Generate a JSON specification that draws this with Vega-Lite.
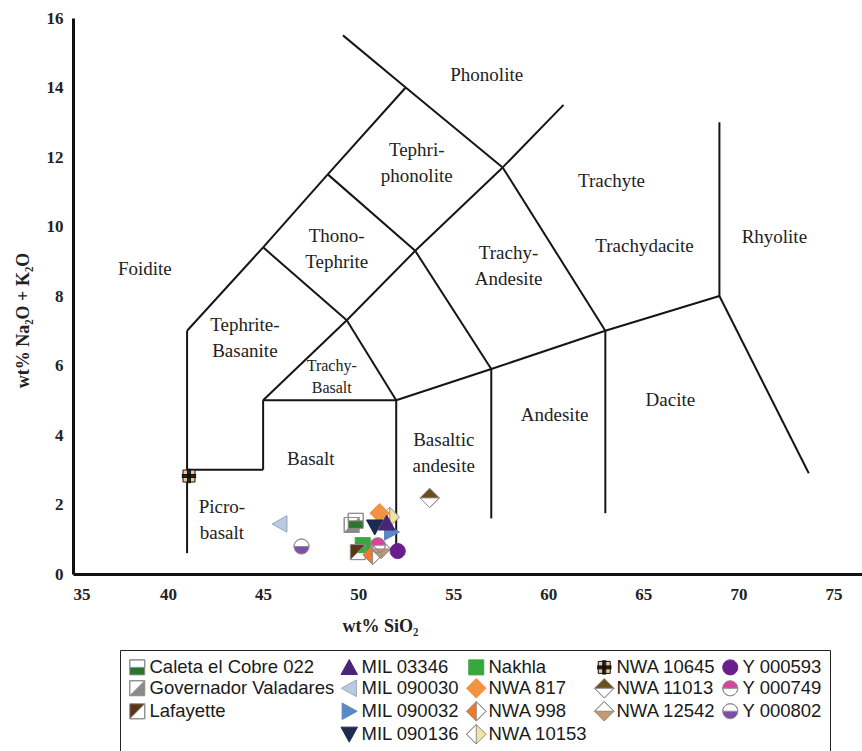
{
  "$schema": "https://vega.github.io/schema/vega-lite/v6.json",
  "autosize": {"type": "none"},
  "padding": {"left": 73, "top": 18, "right": 0, "bottom": 177},
  "width": 789,
  "height": 556,
  "background": "white",
  "config": {
    "view": {"stroke": null},
    "axis": {
      "grid": false,
      "ticks": false,
      "domainColor": "#111",
      "domainWidth": 3,
      "labelFont": "Liberation Serif",
      "labelFontWeight": "bold",
      "labelFontSize": 17,
      "labelColor": "#222",
      "titleFont": "Liberation Serif",
      "titleFontWeight": "bold",
      "titleFontSize": 18,
      "titleColor": "#222"
    },
    "axisX": {"labelPadding": 12, "titleX": 307, "titleY": 52, "titleBaseline": "middle", "titleAlign": "center"},
    "axisY": {"labelPadding": 10, "titleX": -50, "titleY": 302, "titleAngle": -90, "titleBaseline": "middle", "titleAlign": "center"},
    "legend": {"orient": "none", "legendX": 47, "legendY": 632, "columns": 5, "title": null, "labelFont": "Liberation Sans", "labelFontSize": 18.5, "labelColor": "#1a1a1a", "symbolSize": 225, "symbolStrokeWidth": 1, "symbolOpacity": 1, "strokeColor": "#222", "fillColor": "white", "padding": 8, "rowPadding": -1, "columnPadding": 4, "labelOffset": 3, "labelLimit": 300}
  },
  "datasets": {
    "boundaries": [
      {"x1": 41, "y1": 0.6, "x2": 41, "y2": 7},
      {"x1": 41, "y1": 3, "x2": 45, "y2": 3},
      {"x1": 45, "y1": 3, "x2": 45, "y2": 5},
      {"x1": 45, "y1": 5, "x2": 52, "y2": 5},
      {"x1": 52, "y1": 5, "x2": 52, "y2": 0.6},
      {"x1": 45, "y1": 5, "x2": 49.4, "y2": 7.3},
      {"x1": 49.4, "y1": 7.3, "x2": 52, "y2": 5},
      {"x1": 52, "y1": 5, "x2": 57, "y2": 5.9},
      {"x1": 57, "y1": 5.9, "x2": 63, "y2": 7},
      {"x1": 63, "y1": 7, "x2": 69, "y2": 8},
      {"x1": 69, "y1": 8, "x2": 69, "y2": 13},
      {"x1": 69, "y1": 8, "x2": 73.7, "y2": 2.9},
      {"x1": 57, "y1": 5.9, "x2": 57, "y2": 1.6},
      {"x1": 63, "y1": 7, "x2": 63, "y2": 1.75},
      {"x1": 49.4, "y1": 7.3, "x2": 53, "y2": 9.3},
      {"x1": 53, "y1": 9.3, "x2": 57.6, "y2": 11.7},
      {"x1": 57.6, "y1": 11.7, "x2": 60.8, "y2": 13.5},
      {"x1": 53, "y1": 9.3, "x2": 57, "y2": 5.9},
      {"x1": 57.6, "y1": 11.7, "x2": 63, "y2": 7},
      {"x1": 41, "y1": 7, "x2": 45, "y2": 9.4},
      {"x1": 45, "y1": 9.4, "x2": 48.4, "y2": 11.5},
      {"x1": 48.4, "y1": 11.5, "x2": 52.5, "y2": 14},
      {"x1": 52.5, "y1": 14, "x2": 57.6, "y2": 11.7},
      {"x1": 52.5, "y1": 14, "x2": 49.2, "y2": 15.5},
      {"x1": 45, "y1": 9.4, "x2": 49.4, "y2": 7.3},
      {"x1": 48.4, "y1": 11.5, "x2": 53, "y2": 9.3}
    ],
    "fields": [
      {"x": 56.76, "y": 14.36, "name": "Phonolite"},
      {"x": 53.08, "y": 12.2, "name": "Tephri-\nphonolite"},
      {"x": 63.32, "y": 11.31, "name": "Trachyte"},
      {"x": 48.87, "y": 9.73, "name": "Thono-\nTephrite"},
      {"x": 38.78, "y": 8.78, "name": "Foidite"},
      {"x": 57.91, "y": 9.24, "name": "Trachy-\nAndesite"},
      {"x": 65.06, "y": 9.44, "name": "Trachydacite"},
      {"x": 71.89, "y": 9.7, "name": "Rhyolite"},
      {"x": 44.04, "y": 7.17, "name": "Tephrite-\nBasanite"},
      {"x": 60.33, "y": 4.58, "name": "Andesite"},
      {"x": 66.42, "y": 5.01, "name": "Dacite"},
      {"x": 54.5, "y": 3.86, "name": "Basaltic\nandesite"},
      {"x": 47.51, "y": 3.31, "name": "Basalt"},
      {"x": 42.83, "y": 1.93, "name": "Picro-\nbasalt"}
    ],
    "smallFields": [
      {"x": 48.61, "y": 5.99, "name": "Trachy-\nBasalt"}
    ],
    "samples": [
      {"sample": "NWA 11013", "sio2": 53.76, "alk": 2.19},
      {"sample": "MIL 090030", "sio2": 45.88, "alk": 1.44},
      {"sample": "Y 000802", "sio2": 47.02, "alk": 0.79},
      {"sample": "NWA 10645", "sio2": 41.1, "alk": 2.82},
      {"sample": "NWA 10153", "sio2": 51.66, "alk": 1.64},
      {"sample": "NWA 817", "sio2": 51.13, "alk": 1.75},
      {"sample": "MIL 090136", "sio2": 50.87, "alk": 1.35},
      {"sample": "MIL 090032", "sio2": 51.76, "alk": 1.21},
      {"sample": "MIL 03346", "sio2": 51.5, "alk": 1.47},
      {"sample": "Governador Valadares", "sio2": 49.66, "alk": 1.41},
      {"sample": "Caleta el Cobre 022", "sio2": 49.87, "alk": 1.53},
      {"sample": "Nakhla", "sio2": 50.24, "alk": 0.83},
      {"sample": "Lafayette", "sio2": 49.98, "alk": 0.63},
      {"sample": "NWA 12542", "sio2": 51.2, "alk": 0.72},
      {"sample": "Y 000749", "sio2": 51.03, "alk": 0.83},
      {"sample": "NWA 998", "sio2": 50.76, "alk": 0.55},
      {"sample": "Y 000593", "sio2": 52.08, "alk": 0.66}
    ]
  },
  "layer": [
    {
      "data": {"name": "boundaries"},
      "mark": {"type": "rule", "color": "#151515", "strokeWidth": 2},
      "encoding": {
        "x": {
          "field": "x1", "type": "quantitative", "title": "wt% SiO₂",
          "scale": {"domain": [35, 76.5], "nice": false, "zero": false},
          "axis": {"values": [35, 40, 45, 50, 55, 60, 65, 70, 75]}
        },
        "y": {
          "field": "y1", "type": "quantitative", "title": "wt% Na₂O + K₂O",
          "scale": {"domain": [0, 16], "nice": false, "zero": false},
          "axis": {"values": [0, 2, 4, 6, 8, 10, 12, 14, 16]}
        },
        "x2": {"field": "x2"},
        "y2": {"field": "y2"}
      }
    },
    {
      "data": {"name": "fields"},
      "mark": {"type": "text", "font": "Liberation Serif", "fontSize": 19, "color": "#222", "lineBreak": "\n", "lineHeight": 26, "align": "center", "baseline": "middle"},
      "encoding": {
        "x": {"field": "x", "type": "quantitative", "title": "wt% SiO₂"},
        "y": {"field": "y", "type": "quantitative", "title": "wt% Na₂O + K₂O"},
        "text": {"field": "name"}
      }
    },
    {
      "data": {"name": "smallFields"},
      "mark": {"type": "text", "font": "Liberation Serif", "fontSize": 16, "color": "#222", "lineBreak": "\n", "lineHeight": 22, "align": "center", "baseline": "middle"},
      "encoding": {
        "x": {"field": "x", "type": "quantitative", "title": "wt% SiO₂"},
        "y": {"field": "y", "type": "quantitative", "title": "wt% Na₂O + K₂O"},
        "text": {"field": "name"}
      }
    },
    {
      "data": {"name": "samples"},
      "mark": {"type": "point", "filled": true, "opacity": 1, "strokeWidth": 1},
      "encoding": {
        "x": {"field": "sio2", "type": "quantitative", "title": "wt% SiO₂"},
        "y": {"field": "alk", "type": "quantitative", "title": "wt% Na₂O + K₂O"},
        "size": {"value": 225},
        "color": {
          "field": "sample", "type": "nominal",
          "scale": {
            "domain": ["Caleta el Cobre 022", "Governador Valadares", "Lafayette", " ", "MIL 03346", "MIL 090030", "MIL 090032", "MIL 090136", "Nakhla", "NWA 817", "NWA 998", "NWA 10153", "NWA 10645", "NWA 11013", "NWA 12542", "  ", "Y 000593", "Y 000749", "Y 000802"],
            "range": ["#2d7430", "#8a8a8a", "#5a3516", "transparent", "#4a2478", "#b8cbe0", "#5b88c4", "#1e2a4f", "#3aa640", "#f39240", "#f07a2a", "#f3e3a0", "#f6c794", "#6b4f1d", "#c49a6a", "transparent", "#6a1e8c", "#d9449a", "#7e4fa6"]
          }
        },
        "stroke": {
          "field": "sample", "type": "nominal",
          "scale": {
            "domain": ["Caleta el Cobre 022", "Governador Valadares", "Lafayette", " ", "MIL 03346", "MIL 090030", "MIL 090032", "MIL 090136", "Nakhla", "NWA 817", "NWA 998", "NWA 10153", "NWA 10645", "NWA 11013", "NWA 12542", "  ", "Y 000593", "Y 000749", "Y 000802"],
            "range": ["#8c8c8c", "#8c8c8c", "#8c8c8c", "transparent", "#4a2478", "#9aa8b8", "#5b88c4", "#1e2a4f", "#3aa640", "#f39240", "#8c8c8c", "#8c8c8c", "#111111", "#8c8c8c", "#8c8c8c", "transparent", "#6a1e8c", "#8c8c8c", "#8c8c8c"]
          }
        },
        "shape": {
          "field": "sample", "type": "nominal",
          "scale": {
            "domain": ["Caleta el Cobre 022", "Governador Valadares", "Lafayette", " ", "MIL 03346", "MIL 090030", "MIL 090032", "MIL 090136", "Nakhla", "NWA 817", "NWA 998", "NWA 10153", "NWA 10645", "NWA 11013", "NWA 12542", "  ", "Y 000593", "Y 000749", "Y 000802"],
            "range": [
              "M-1,0H1V1H-1ZM-1,0V-1H1V0V-1H-1Z",
              "M1,-1L1,1L-1,1ZM-1,1L-1,-1L1,-1L-1,-1Z",
              "M-1,-1L1,-1L-1,1ZM1,-1L1,1L-1,1L1,1Z",
              "M0,0",
              "M0,-1.05L1.1,0.95L-1.1,0.95Z",
              "M-1.05,0L0.95,-1.1L0.95,1.1Z",
              "M1.05,0L-0.95,-1.1L-0.95,1.1Z",
              "M-1.1,-0.95L1.1,-0.95L0,1.05Z",
              "M-1,-1H1V1H-1Z",
              "M0,-1.3L1.3,0L0,1.3L-1.3,0Z",
              "M0,-1.3L-1.3,0L0,1.3ZM0,-1.3L1.3,0L0,1.3L1.3,0Z",
              "M0,-1.3L1.3,0L0,1.3ZM0,-1.3L-1.3,0L0,1.3L-1.3,0Z",
              "M-0.8,-0.8H0.8V0.8H-0.8ZM-0.95,-0.2H0.95M-0.95,-0.1H0.95M-0.95,0H0.95M-0.95,0.1H0.95M-0.95,0.2H0.95M-0.2,-0.95V0.95M-0.1,-0.95V0.95M0,-0.95V0.95M0.1,-0.95V0.95M0.2,-0.95V0.95",
              "M-1.3,0L0,-1.3L1.3,0ZM-1.3,0L0,1.3L1.3,0L0,1.3Z",
              "M-1.3,0L0,1.3L1.3,0ZM-1.3,0L0,-1.3L1.3,0L0,-1.3Z",
              "M0,0",
              "M-1,0A1,1 0 1,0 1,0A1,1 0 1,0 -1,0Z",
              "M-1,0A1,1 0 0,1 1,0ZM-1,0A1,1 0 0,0 1,0A1,1 0 0,1 -1,0Z",
              "M-1,0A1,1 0 0,0 1,0ZM-1,0A1,1 0 0,1 1,0A1,1 0 0,0 -1,0Z"
            ]
          }
        }
      }
    }
  ]
}
